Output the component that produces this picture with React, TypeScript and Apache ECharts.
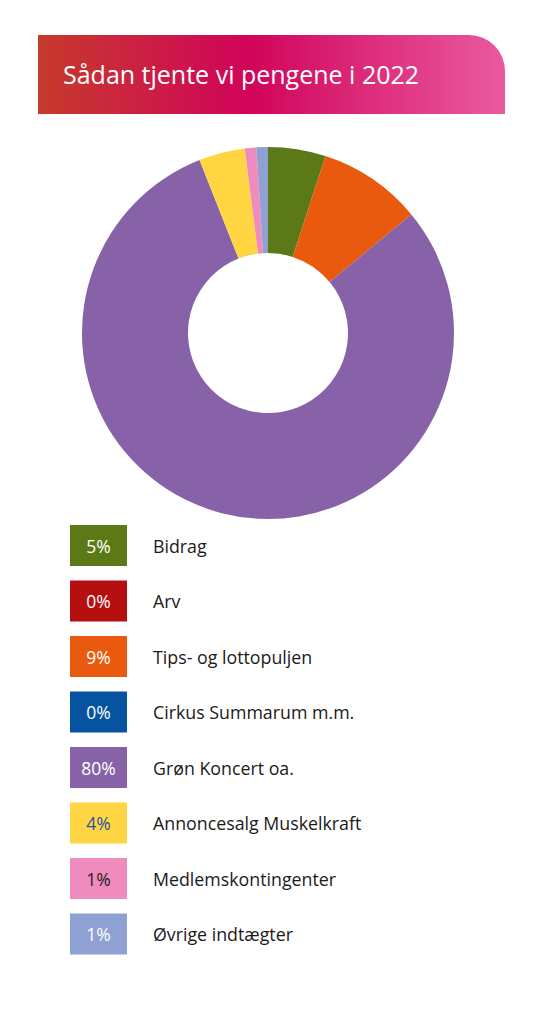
import React, { useEffect, useRef } from "react";
import * as echarts from "echarts";

const title = "Sådan tjente vi pengene i 2022";
const categories = [
  "Bidrag",
  "Arv",
  "Tips- og lottopuljen",
  "Cirkus Summarum m.m.",
  "Grøn Koncert oa.",
  "Annoncesalg Muskelkraft",
  "Medlemskontingenter",
  "Øvrige indtægter",
];
const values = [5, 0, 9, 0, 80, 4, 1, 1];
const colors = ["#5B7A17", "#B50F10", "#E95A0F", "#0553A1", "#8762A8", "#FFD641", "#EF8CBD", "#8FA1D3"];
const percentTextColors = ["#ffffff", "#ffffff", "#ffffff", "#ffffff", "#ffffff", "#1F57A6", "#222222", "#ffffff"];

const FONT = "'Open Sans'";

export default function App() {
  const ref = useRef<HTMLDivElement>(null);
  useEffect(() => {
    document.body.style.margin = "0";
    if (!ref.current) return;
    const chart = echarts.init(ref.current, undefined, { renderer: "svg" });
    const legendTop = 525;
    const pitch = 55.5;
    const boxW = 57;
    const boxH = 41;
    const legendLeft = 70;
    const percentTexts = values.map((v, i) => ({
      type: "text",
      z: 100,
      style: {
        text: v + "%",
        x: legendLeft + boxW / 2,
        y: legendTop + i * pitch + boxH / 2,
        align: "center",
        verticalAlign: "middle",
        fill: percentTextColors[i],
        font: `17.5px ${FONT}`,
      },
    }));
    chart.setOption({
      animation: false,
      color: colors,
      graphic: [
        {
          type: "rect",
          shape: { x: 38, y: 35, width: 467, height: 79, r: [0, 36, 0, 0] },
          style: {
            fill: new echarts.graphic.LinearGradient(0, 0, 1, 0, [
              { offset: 0, color: "#C63A2C" },
              { offset: 0.45, color: "#D1045A" },
              { offset: 1, color: "#EA5AA0" },
            ]),
          },
        },
        {
          type: "text",
          style: {
            text: title,
            x: 63,
            y: 74,
            verticalAlign: "middle",
            fill: "#ffffff",
            font: `25px ${FONT}`,
          },
        },
        ...percentTexts,
      ],
      legend: {
        orient: "vertical",
        left: legendLeft,
        top: legendTop,
        padding: 0,
        itemWidth: boxW,
        itemHeight: boxH,
        itemGap: pitch - boxH,
        icon: "rect",
        selectedMode: false,
        data: categories,
        textStyle: {
          fontFamily: "Open Sans",
          fontSize: 17.8,
          color: "#1a1a1a",
          padding: [0, 0, 0, 21],
        },
      },
      series: [
        {
          type: "pie",
          center: [268, 333],
          radius: [80, 186],
          startAngle: 90,
          clockwise: true,
          label: { show: false },
          labelLine: { show: false },
          emphasis: { disabled: true },
          silent: true,
          data: categories.map((name, i) => ({ name, value: values[i] })),
        },
      ],
    });
    return () => chart.dispose();
  }, []);
  return <div ref={ref} style={{ width: 535, height: 1024 }} />;
}
